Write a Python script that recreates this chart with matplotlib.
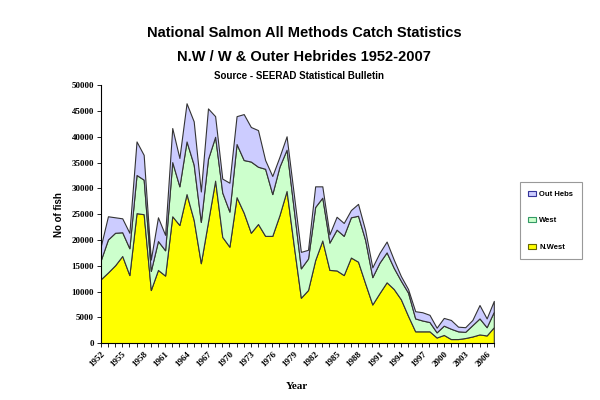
import matplotlib.pyplot as plt
from matplotlib.patches import Patch

# Dados - capturas por ano
anos = list(range(1952, 2008))

n_west = [12400, 13700, 15100, 16900, 13200, 25200, 25000, 10300, 14200, 13100,
          24600, 22900, 28900, 23900, 15500, 23500, 31500, 20600, 18700, 28300,
          25300, 21400, 23100, 20800, 20800, 24800, 29500, 19000, 8800, 10300,
          16100, 19900, 14200, 14100, 13200, 16600, 15800, 11600, 7500, 9700,
          11800, 10500, 8500, 5300, 2300, 2300, 2300, 1100, 1600, 800,
          800, 1000, 1300, 1700, 1500, 3100]

west = [3700, 6400, 6300, 4600, 5200, 7400, 6700, 3700, 5600, 4900,
        10500, 7500, 10200, 10700, 8000, 12200, 8500, 8600, 6800, 10300,
        10200, 13800, 11100, 13000, 8100, 9400, 8000, 7000, 5700, 6100,
        10300, 8300, 5300, 7900, 7600, 7800, 8900, 8400, 5300, 5900,
        5800, 4100, 3600, 4500, 2500, 2100, 1800, 1000, 1800, 2000,
        1500, 1200, 2200, 3100, 1600, 3000]

out_hebs = [2700, 4500, 3000, 2700, 3000, 6500, 4800, 2200, 4600, 3000,
            6600, 5500, 7400, 8400, 5900, 9800, 4000, 2700, 5600, 5400,
            8900, 6700, 7100, 1700, 3500, 1900, 2600, 3000, 3200, 1700,
            4000, 2200, 1600, 2500, 2500, 1400, 2300, 1900, 1900, 1900,
            2100, 1600, 900, 700, 1400, 1600, 1400, 900, 1500, 1700,
            900, 900, 1000, 2600, 1700, 2100]

series = ["N.West", "West", "Out Hebs"]
cores = ["#FFFF00", "#CCFFCC", "#CCCCFF"]
bordas = ["#666600", "#339966", "#333399"]

rotulos_x = list(range(1952, 2008, 3))
rotulos_y = list(range(0, 50001, 5000))

fig = plt.figure(figsize=(6, 4), dpi=100)
ax = fig.add_axes([0.168, 0.142, 0.655, 0.645])

ax.stackplot(anos, n_west, west, out_hebs, colors=cores,
             edgecolor="#333333", linewidth=0.8)

ax.set_xlim(1952, 2007)
ax.set_ylim(0, 50000)

# Eixos no estilo Excel
for lado in ["top", "right"]:
    ax.spines[lado].set_visible(False)
ax.spines["left"].set_linewidth(0.8)
ax.spines["bottom"].set_linewidth(0.8)

ax.set_xticks(anos, minor=True)
ax.set_xticks(rotulos_x)
ax.set_xticklabels([str(a) for a in rotulos_x], rotation=45, ha="right",
                   rotation_mode="anchor", fontsize=6.5, fontweight="bold",
                   family="Liberation Serif")
ax.set_yticks(rotulos_y)
ax.set_yticklabels([str(v) for v in rotulos_y], fontsize=6.5,
                   fontweight="bold", family="Liberation Serif")
ax.tick_params(axis="both", which="both", direction="out", length=3,
               width=0.6, pad=2)

ax.set_xlabel("Year", fontsize=8, fontweight="bold",
              family="Liberation Serif", labelpad=10)
ax.set_ylabel("No of fish", fontsize=7, fontweight="bold",
              family="Liberation Sans", labelpad=5)

# Títulos
fig.text(0.507, 0.918, "National Salmon All Methods Catch Statistics",
         ha="center", va="center", fontsize=10.5, fontweight="bold",
         family="Liberation Sans")
fig.text(0.507, 0.857, "N.W / W & Outer Hebrides 1952-2007",
         ha="center", va="center", fontsize=10.5, fontweight="bold",
         family="Liberation Sans")
fig.text(0.498, 0.81, "Source - SEERAD Statistical Bulletin",
         ha="center", va="center", fontsize=7, fontweight="bold",
         family="Liberation Sans")

# Legenda
handles = [Patch(facecolor=cores[i], edgecolor=bordas[i], linewidth=0.8,
                 label=series[i]) for i in [2, 1, 0]]
leg = fig.legend(handles=handles, loc="center", bbox_to_anchor=(0.918, 0.448),
                 prop={"weight": "bold", "family": "Liberation Sans",
                       "size": 5.5},
                 frameon=True, fancybox=False, edgecolor="#808080",
                 handlelength=1.0, handleheight=0.7, handletextpad=0.4,
                 labelspacing=2.5, borderpad=1.1, borderaxespad=0)
leg.get_frame().set_linewidth(0.8)

fig.savefig("out.png", dpi=100, facecolor="white")
